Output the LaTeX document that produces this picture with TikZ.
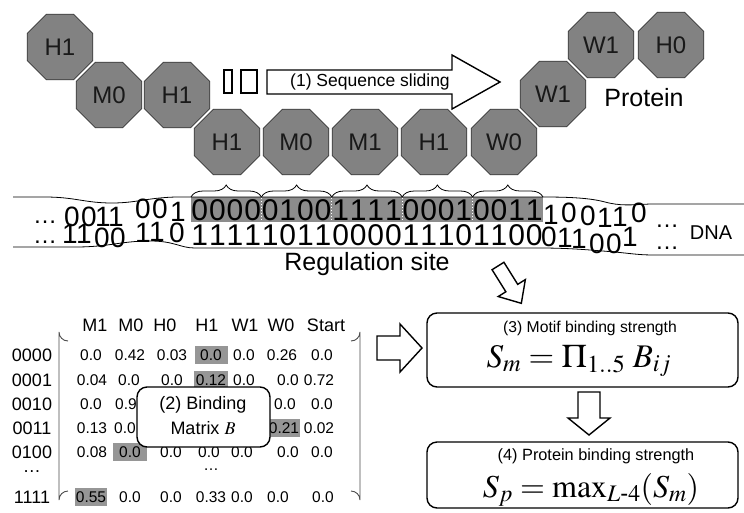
\documentclass[tikz,border=0pt]{standalone}
\usepackage{amsmath}
\usepackage{mathptmx}
\usepackage[no-math]{fontspec}
\setmainfont{Liberation Sans}
\usetikzlibrary{shapes.geometric,decorations.pathreplacing}
\definecolor{octfill}{RGB}{130,130,130}
\definecolor{octline}{RGB}{55,55,55}
\definecolor{dnagray}{RGB}{140,140,140}
\definecolor{hlgray}{RGB}{150,150,150}
\newcommand{\fsz}[1]{\fontsize{#1}{#1}\selectfont}
\begin{document}
\begin{tikzpicture}[x=1pt,y=-1pt,
  oct/.style={regular polygon, regular polygon sides=8, minimum size=71pt, inner sep=0pt,
    fill=octfill, draw=octline, line width=0.8pt, font=\fsz{24}, text=black!90},
  txt/.style={inner sep=0pt, font=\fsz{#1}},
  dig/.style={anchor=base, inner sep=0pt, font=\fsz{30}},
  wdig/.style={anchor=base, inner sep=0pt, font=\fsz{28}},
  dnaline/.style={line width=0.8pt, black},
  blk/.style={draw=black, fill=white, line width=1.4pt, line join=miter},
  rbox/.style={draw=black, line width=1.4pt, rounded corners=10pt, fill=white},
  val/.style={inner sep=0pt, font=\fsz{15.5}},
  rlab/.style={inner sep=0pt, font=\fsz{18}},
  hl/.style={fill=hlgray, draw=none},
  brc/.style={decorate, decoration={brace, amplitude=12pt}, line width=0.8pt}
]
\useasboundingbox (0,0) rectangle (744,512);
\fill[white] (0,0) rectangle (744,512);

% ---------- protein octagons ----------
\node[oct] (o1) at (60,47) {H1};
\node[oct] (o2) at (109,95) {M0};
\node[oct] (o3) at (177,95) {H1};
\node[oct] (o4) at (227,142) {H1};
\node[oct] (o5) at (296,142) {M0};
\node[oct] (o6) at (365,142) {M1};
\node[oct] (o7) at (434,142) {H1};
\node[oct] (o8) at (504,142) {W0};
\node[oct] (o9) at (553,94) {W1};
\node[oct] (o10) at (601,45) {W1};
\node[oct] (o11) at (671,45) {H0};
\node[txt=25] (protein) at (644,98) {Protein};

% ---------- sequence sliding arrow ----------
\draw[blk, line width=1.2pt] (224,70) rectangle (232,93);
\draw[blk, line width=1.2pt] (241,70) rectangle (257,93);
\coordinate (sl) at (267,82);
\draw[blk, shift={(sl)}] (0,-12) -- (185,-12) -- (185,-27) -- (233,0) -- (185,27) -- (185,12) -- (0,12) -- cycle;
\node[txt=17.5] (slide) at (370,82) {(1) Sequence sliding};

% ---------- DNA ----------
\fill[dnagray] (191,197) rectangle (543,222);
\foreach \bx in {261.4,331.8,402.2,472.6}
  \draw[white, line width=1pt, dotted] (\bx,198) -- (\bx,222);
\draw[dnaline] (13,197) -- (45,197) .. controls (75,197) and (85,203) .. (112,203)
  .. controls (140,203) and (150,196) .. (191,197) -- (543,197)
  .. controls (570,197) and (590,198) .. (605,202) .. controls (620,206) and (630,205) .. (650,204) -- (744,204);
\draw[dnaline] (13,247) -- (75,247) .. controls (110,247) and (120,241) .. (150,241)
  .. controls (175,241) and (180,248) .. (195,248) -- (540,248)
  .. controls (570,248) and (590,250) .. (615,252) .. controls (635,254) and (640,255) .. (655,255) -- (744,255);
\foreach \a/\b [count=\k] in {191/261.4,261.4/331.8,331.8/402.2,402.2/472.6,472.6/543}
  \draw[brc] (\a,197) -- (\b,197);
\foreach \d [count=\i from 0] in {0,0,0,0,0,1,0,0,1,1,1,1,0,0,0,1,0,0,1,1}
  \node[dig] (gt\i) at ({191+17.6*(\i+0.5)},220) {\d};
\foreach \d [count=\i from 0] in {1,1,1,1,1,0,1,1,0,0,0,0,1,1,1,0,1,1,0,0}
  \node[dig] (gb\i) at ({191+17.6*(\i+0.5)},245) {\d};
\foreach \x/\y/\d [count=\i] in {72/226/0,89/226/0,103/226/1,116/226/1,143/218/0,160/218/0,178/221/1}
  \node[wdig] (lt\i) at (\x,\y) {\d};
\foreach \x/\y/\d [count=\i] in {70/243/1,84/243/1,102/247/0,118/247/0,143/242/1,157/241/1,177/242/0}
  \node[wdig] (lb\i) at (\x,\y) {\d};
\foreach \x/\y/\d [count=\i] in {551/224/1,569/222/0,588/225/0,605/227/1,620/226/1,639/222/0}
  \node[wdig] (rt\i) at (\x,\y) {\d};
\foreach \x/\y/\d [count=\i] in {549/246/0,565/247/1,579/248/1,597/253/0,614/253/0,630/246/1}
  \node[wdig] (rb\i) at (\x,\y) {\d};
\node[dig, font=\fsz{24}] (ltd) at (45,223) {…};
\node[dig, font=\fsz{24}] (lbd) at (45,243) {…};
\node[dig, font=\fsz{24}] (rtd) at (667,227) {…};
\node[dig, font=\fsz{24}] (rbd) at (667,249) {…};
\node[txt=20] (dna) at (711,233) {DNA};
\node[txt=25] (reg) at (367,264) {Regulation site};

% ---------- diagonal arrow DNA -> box3 ----------
\coordinate (da) at (498,266);
\draw[blk, shift={(da)}, rotate=-58] (0,-7) -- (26,-7) -- (26,-16) -- (44,0) -- (26,16) -- (26,7) -- (0,7) -- cycle;

% ---------- binding matrix ----------
\foreach \n/\x in {M1/95,M0/131,H0/165,H1/207,W1/245,W0/281,Start/326}
  \node[rlab] (h\n) at (\x,325) {\n};
\draw[line width=0.9pt, black!70] (68,341) arc[start angle=90, end angle=180, radius=9] -- (59,500) arc[start angle=180, end angle=270, radius=9];
\draw[line width=0.9pt, black!70] (351,341) arc[start angle=90, end angle=0, radius=9] -- (360,500) arc[start angle=0, end angle=-90, radius=9];
\foreach \n/\y in {0000/355,0001/380,0010/404,0011/428,0100/452,1111/497}
  \node[rlab] (r\n) at (32,\y) {\n};
\node[rlab] (rdots) at (32,472) {…};
% highlights
\fill[hl] (195,346) rectangle (228,364);
\fill[hl] (194,371) rectangle (228,389);
\fill[hl] (268,419) rectangle (300,437);
\fill[hl] (113,443) rectangle (147,461);
\fill[hl] (75,488) rectangle (107,506);
% values
\foreach \v/\x [count=\i] in {0.0/91,0.42/130,0.03/172,0.0/211,0.0/244,0.26/282,0.0/322}
  \node[val] (va\i) at (\x,355) {\v};
\foreach \v/\x [count=\i] in {0.04/92,0.0/129,0.0/172,0.12/211,0.0/244,0.0/288,0.72/319}
  \node[val] (vb\i) at (\x,380) {\v};
\node[val] (vc1) at (91,404) {0.0};
\node[val, anchor=west] (vc2) at (115,404) {0.9};
\node[val] (vc6) at (285,404) {0.0};
\node[val] (vc7) at (322,404) {0.0};
\node[val] (vd1) at (92,428) {0.13};
\node[val, anchor=west] (vd2) at (114,428) {0.0};
\node[val] (vd6) at (284,428) {0.21};
\node[val] (vd7) at (319,428) {0.02};
\foreach \v/\x [count=\i] in {0.08/92,0.0/130,0.0/171,0.0/209,0.0/242,0.0/288,0.0/322}
  \node[val] (ve\i) at (\x,452) {\v};
\node[val] (vdots) at (211,470) {…};
\foreach \v/\x [count=\i] in {0.55/91,0.0/130,0.0/171,0.33/211,0.0/242,0.0/278,0.0/323}
  \node[val] (vf\i) at (\x,497) {\v};
% box (2)
\node[rbox, minimum width=133pt, minimum height=60pt, inner sep=0pt] (b2) at (203.5,417) {};
\node[txt=18] (b2a) at (203,405) {(2) Binding};
\node[txt=18, anchor=base] (b2b) at (203,434) {Matrix $B$};

% ---------- arrow matrix -> box3 ----------
\coordinate (ra) at (377,348);
\draw[blk, shift={(ra)}] (0,-12) -- (23,-12) -- (23,-24) -- (45,0) -- (23,24) -- (23,12) -- (0,12) -- cycle;

% ---------- box (3) ----------
\node[rbox, minimum width=311pt, minimum height=74pt, inner sep=0pt] (b3) at (582.5,350) {};
\node[txt=15.7] (b3a) at (590,328) {(3) Motif binding strength};
\node[txt=33, anchor=base] (b3b) at (579,367) {$S_m = \Pi_{1..5}\; B_{ij}$};

% ---------- arrow box3 -> box4 ----------
\coordinate (dd) at (589,392);
\draw[blk, shift={(dd)}] (-11,0) -- (-11,26) -- (-21,26) -- (0,43) -- (21,26) -- (11,26) -- (11,0) -- cycle;

% ---------- box (4) ----------
\node[rbox, minimum width=311pt, minimum height=66pt, inner sep=0pt] (b4) at (582.5,475) {};
\node[txt=16.3] (b4a) at (596,456) {(4) Protein binding strength};
\node[txt=32, anchor=base] (b4b) at (591,497) {$S_p = \mathrm{max}_{L\text{-}4}(S_m)$};
\end{tikzpicture}
\end{document}
